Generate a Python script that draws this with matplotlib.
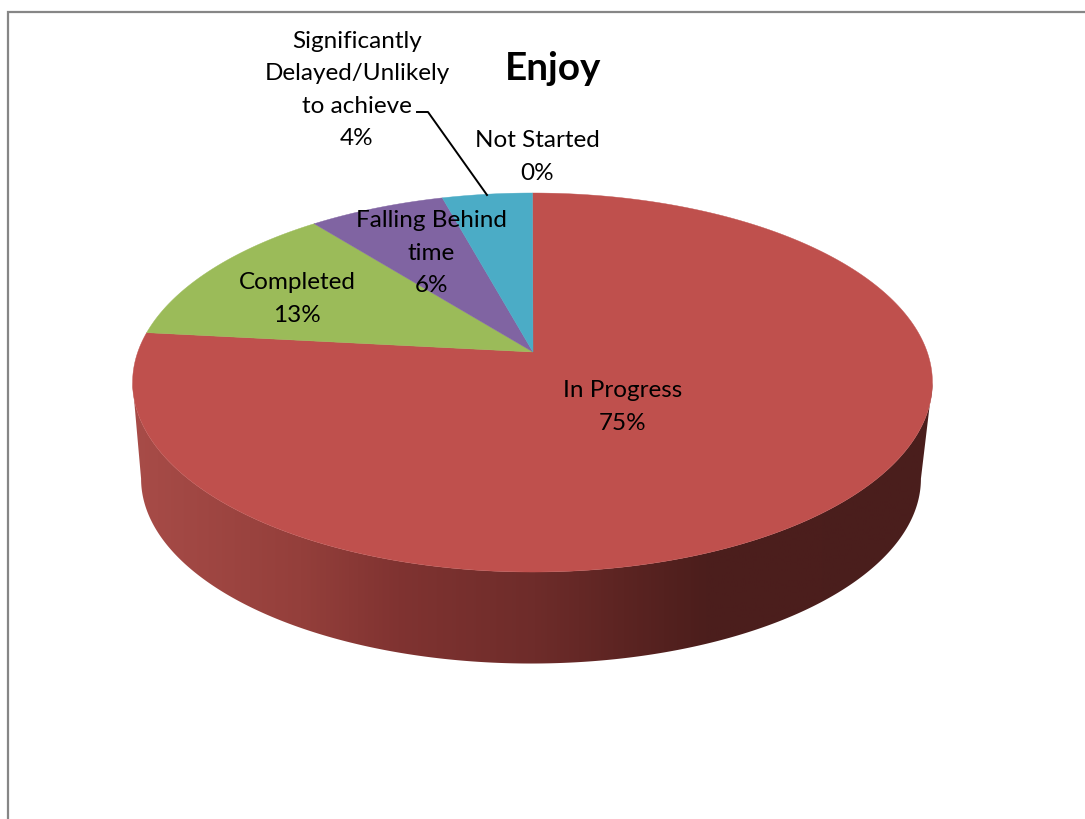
import numpy as np
import matplotlib
matplotlib.use('Agg')
import matplotlib.pyplot as plt
from matplotlib.patches import Polygon
from matplotlib.colors import LinearSegmentedColormap

plt.rcParams['font.family'] = ['Lato', 'DejaVu Sans']

# data
categories = ['In Progress', 'Completed', 'Falling Behind\ntime',
              'Significantly\nDelayed/Unlikely\nto achieve', 'Not Started']
percent_labels = [75, 13, 6, 4, 0]
# slice sizes as drawn in the picture (the printed labels do not add up to 100)
slice_shares = [76.7, 12.6, 6.45, 4.25, 0]
colors = ['#BF504D', '#9BBB59', '#8064A2', '#4BACC6', '#C0C0C0']
label_xy = [(623, 407), (297, 299), (431, 253), (357, 90), (537, 157)]

fig = plt.figure(figsize=(10.85, 8.19), dpi=100)
ax = fig.add_axes([0, 0, 1, 1])
ax.axis('off')

# chart frame, runs off the right and bottom edge
ax.plot([8, 8, 1100], [830, 12, 12], color='#868686', lw=1.6, solid_joinstyle='miter')

# perspective of the disc: angle clockwise from 12 o'clock -> pixel
A, B, K = 184.6, 394.7, 0.161

def rim(theta, cx=532.5, cy=352, scale=1.0):
    s, c = np.sin(theta), np.cos(theta)
    d = 1 + K * c
    return cx + scale * B * s / d, cy - scale * A * c / d

# side wall, horizontal gradient clipped to the wall outline
# runs between the two widest points of the disc so the outline stays simple
shade = LinearSegmentedColormap.from_list('wall', [
    (0.00, '#A84C48'), (0.21, '#943F3B'), (0.33, '#803331'), (0.50, '#6E2C2A'),
    (0.61, '#5C2422'), (0.71, '#4C1E1C'), (1.00, '#4A1E1D')])
th0 = np.arccos(-K)
th = np.linspace(th0, 2 * np.pi - th0, 400)
xt, yt = rim(th)
xb, yb = rim(th, cx=531, cy=449, scale=0.975)
wall_pts = list(zip(xt, yt)) + list(zip(xb[::-1], yb[::-1]))
im = ax.imshow(np.linspace(0, 1, 512).reshape(1, -1), cmap=shade, aspect='auto',
               extent=(130, 940, 680, 300), interpolation='bilinear', zorder=2)
wall = Polygon(wall_pts, transform=ax.transData, facecolor='none', edgecolor='none')
ax.add_patch(wall)
im.set_clip_path(wall)

# top face
frac = np.array(slice_shares) / sum(slice_shares)
ends = np.cumsum(frac) * 2 * np.pi
starts = ends - frac * 2 * np.pi
for st, en, col, v in zip(starts, ends, colors, slice_shares):
    if v == 0:
        continue
    a = np.linspace(st, en, 300)
    x, y = rim(a)
    pts = [(533, 352)] + list(zip(x, y))
    ax.add_patch(Polygon(pts, facecolor=col, edgecolor=col, lw=0.3, zorder=3))

# leader line
ax.plot([417, 428, 487], [112, 112, 195], color='black', lw=1.4, zorder=4)

for name, v, (lx, ly) in zip(categories, percent_labels, label_xy):
    ax.text(lx, ly, f'{name}\n{v}%', ha='center', va='center', fontsize=17.5,
            linespacing=1.66, color='black', zorder=5)

ax.text(553, 68, 'Enjoy', ha='center', va='center', fontsize=27.8,
        fontweight='bold', color='black', zorder=5)

ax.set_xlim(0, 1085)
ax.set_ylim(819, 0)

fig.savefig('out.png', dpi=100)
